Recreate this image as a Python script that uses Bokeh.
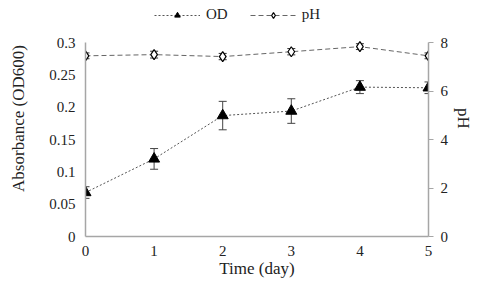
from bokeh.plotting import figure
from bokeh.models import (Range1d, LinearAxis, FixedTicker, Whisker, ColumnDataSource,
                          Legend, LegendItem, TeeHead)
from bokeh.embed import file_html
from bokeh.resources import INLINE

days = [0, 1, 2, 3, 4, 5]
od = [0.068, 0.120, 0.187, 0.194, 0.231, 0.230]
od_err = [0.009, 0.016, 0.022, 0.019, 0.010, 0.009]
ph = [7.45, 7.50, 7.42, 7.62, 7.83, 7.45]
ph_err = [0.12, 0.14, 0.13, 0.13, 0.12, 0.12]
left_ticks = [0, 0.05, 0.1, 0.15, 0.2, 0.25, 0.3]
left_tick_labels = ["0", "0.05", "0.1", "0.15", "0.2", "0.25", "0.3"]
right_ticks = [0, 2, 4, 6, 8]
od_max, ph_max = 0.3, 8

FONT = "Liberation Serif"
AX = "#a6a6a6"

# frame spans the legend strip too; axes are bounded to the data ranges
H, BOTTOM, PLOT_H = 286, 50, 194
FRAME_H = H - BOTTOM
ext = FRAME_H / PLOT_H

src = ColumnDataSource(dict(
    x=days, od=od, od_lo=[v - e for v, e in zip(od, od_err)], od_hi=[v + e for v, e in zip(od, od_err)],
    ph=ph, ph_lo=[v - e for v, e in zip(ph, ph_err)], ph_hi=[v + e for v, e in zip(ph, ph_err)]))

p = figure(width=476, height=H, output_backend="svg", toolbar_location=None,
           x_range=Range1d(0, 5), y_range=Range1d(0, od_max * ext),
           min_border_left=85, min_border_right=41, min_border_top=0, min_border_bottom=BOTTOM)
p.extra_y_ranges = {"ph": Range1d(0, ph_max * ext)}
p.outline_line_color = None
p.grid.visible = False
p.background_fill_color = "white"

# x axis
xa = p.xaxis[0]
xa.ticker = FixedTicker(ticks=days)
xa.axis_label = "Time (day)"
# left axis
ya = p.yaxis[0]
ya.ticker = FixedTicker(ticks=left_ticks)
ya.major_label_overrides = {t: l for t, l in zip(left_ticks, left_tick_labels)}
ya.axis_label = "Absorbance (OD600)"
ya.bounds = (0, od_max)
# right axis
ra = LinearAxis(y_range_name="ph", ticker=FixedTicker(ticks=right_ticks), axis_label="pH",
                bounds=(0, ph_max))
p.add_layout(ra, "right")

for ax in [xa, ya, ra]:
    ax.axis_line_color = AX
    ax.axis_line_width = 1.5
    ax.major_tick_in = 0
    ax.major_tick_out = 0
    ax.minor_tick_line_color = None
    ax.major_label_text_font = FONT
    ax.major_label_text_font_size = "15px"
    ax.major_label_text_color = "#222222"
    ax.axis_label_text_font = FONT
    ax.axis_label_text_font_size = "17px"
    ax.axis_label_text_font_style = "normal"
    ax.axis_label_text_color = "#222222"
ra.major_tick_out = 5
ra.major_tick_line_color = AX
ra.major_label_standoff = 7
ra.axis_label_standoff = 3
xa.major_label_standoff = 9
xa.axis_label_standoff = 0
ya.major_label_standoff = 10
ya.axis_label_standoff = 18

# OD series
od_line = p.line("x", "od", source=src, line_color="#555555", line_dash="2 2", line_width=1)
p.add_layout(Whisker(source=src, base="x", lower="od_lo", upper="od_hi",
                     line_color="#444444", line_width=1,
                     upper_head=TeeHead(size=8, line_color="#444444"),
                     lower_head=TeeHead(size=8, line_color="#444444")))
od_mk = p.scatter("x", "od", source=src, marker="triangle", size=11,
                  fill_color="black", line_color="black")

# pH series
ph_line = p.line("x", "ph", source=src, y_range_name="ph", line_color="#666666",
                 line_dash="5 3", line_width=1)
p.add_layout(Whisker(source=src, base="x", lower="ph_lo", upper="ph_hi", y_range_name="ph",
                     line_color="#333333", line_width=1,
                     upper_head=TeeHead(size=8, line_color="#333333"),
                     lower_head=TeeHead(size=8, line_color="#333333")))
ph_mk = p.scatter("x", "ph", source=src, y_range_name="ph", marker="diamond", size=10,
                  fill_color="white", line_color="black", line_width=1.2)

legend = Legend(items=[LegendItem(label="OD", renderers=[od_line, od_mk]),
                       LegendItem(label="pH", renderers=[ph_line, ph_mk])],
                orientation="horizontal", location=(69, FRAME_H - 23),
                glyph_width=46, glyph_height=14, label_text_font=FONT,
                label_text_font_size="15px", label_text_color="#222222",
                border_line_color=None, background_fill_alpha=0,
                padding=0, margin=0, spacing=22, label_standoff=6)
p.add_layout(legend)

open("out.html", "w").write(file_html(p, INLINE))
